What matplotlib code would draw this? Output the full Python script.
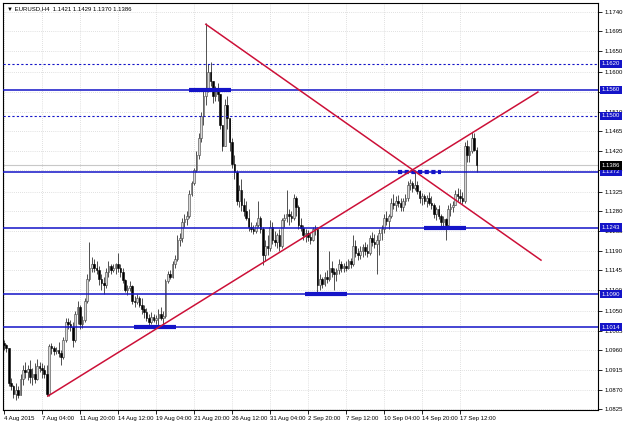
import numpy as np
import matplotlib
matplotlib.use("Agg")
import matplotlib.pyplot as plt
from matplotlib.transforms import blended_transform_factory

plt.rcParams['font.family'] = ['Liberation Sans', 'DejaVu Sans']

# EURUSD H4 bars (high, low, close); open = previous close
first_open = 1.0978
highs = [
    1.0984, 1.0975, 1.0966, 1.0897, 1.0880, 1.0885, 1.0878, 1.0905, 1.0926, 1.0933,
    1.0926, 1.0938, 1.0920, 1.0931, 1.0940, 1.0933, 1.0931, 1.0926, 1.0926, 1.0975,
    1.0978, 1.0970, 1.0968, 1.0980, 1.0962, 1.0990, 1.1035, 1.1035, 1.1030, 1.1025,
    1.1050, 1.1075, 1.1065, 1.1040, 1.1080, 1.1135, 1.1210, 1.1175, 1.1170, 1.1165,
    1.1155, 1.1135, 1.1130, 1.1150, 1.1165, 1.1160, 1.1160, 1.1162, 1.1185, 1.1160,
    1.1150, 1.1125, 1.1110, 1.1120, 1.1110, 1.1085, 1.1090, 1.1085, 1.1080, 1.1065,
    1.1058, 1.1045, 1.1048, 1.1045, 1.1042, 1.1055, 1.1060, 1.1050, 1.1125, 1.1142,
    1.1145, 1.1165, 1.1180, 1.1225, 1.1230, 1.1265, 1.1275, 1.1280, 1.1330, 1.1350,
    1.1380, 1.1420, 1.1460, 1.1510, 1.1560, 1.1713, 1.1620, 1.1625, 1.1580, 1.1570,
    1.1575, 1.1545, 1.1480, 1.1540, 1.1545, 1.1495, 1.1450, 1.1410, 1.1375, 1.1340,
    1.1355, 1.1310, 1.1305, 1.1285, 1.1255, 1.1250, 1.1255, 1.1305, 1.1270, 1.1245,
    1.1215, 1.1225, 1.1260, 1.1255, 1.1235, 1.1230, 1.1240, 1.1265, 1.1275, 1.1330,
    1.1285, 1.1280, 1.1320, 1.1315, 1.1295, 1.1265, 1.1248, 1.1240, 1.1238, 1.1230,
    1.1245, 1.1250, 1.1245, 1.1135, 1.1130, 1.1140, 1.1145, 1.1190, 1.1165, 1.1150,
    1.1150, 1.1170, 1.1165, 1.1162, 1.1165, 1.1170, 1.1172, 1.1225, 1.1215, 1.1195,
    1.1200, 1.1205, 1.1210, 1.1205, 1.1225, 1.1232, 1.1228, 1.1225, 1.1240, 1.1250,
    1.1275, 1.1280, 1.1275, 1.1310, 1.1320, 1.1315, 1.1318, 1.1312, 1.1310, 1.1320,
    1.1350, 1.1355, 1.1350, 1.1376, 1.1350, 1.1330, 1.1322, 1.1320, 1.1318, 1.1325,
    1.1315, 1.1300, 1.1290, 1.1295, 1.1275, 1.1270, 1.1265, 1.1295, 1.1300, 1.1305,
    1.1330, 1.1335, 1.1332, 1.1325, 1.1440, 1.1445, 1.1430, 1.1462, 1.1460, 1.1429,
]
lows = [
    1.0961, 1.0956, 1.0878, 1.0869, 1.0851, 1.0847, 1.0851, 1.0864, 1.0880, 1.0897,
    1.0892, 1.0885, 1.0880, 1.0885, 1.0893, 1.0910, 1.0897, 1.0897, 1.0855, 1.0855,
    1.0952, 1.0950, 1.0952, 1.0945, 1.0926, 1.0940, 1.0980, 1.1010, 1.1005, 1.0968,
    1.0980, 1.1020, 1.1010, 1.1012, 1.1025, 1.1070, 1.1120, 1.1140, 1.1140, 1.1135,
    1.1110, 1.1100, 1.1090, 1.1105, 1.1130, 1.1135, 1.1140, 1.1135, 1.1140, 1.1130,
    1.1115, 1.1095, 1.1088, 1.1098, 1.1068, 1.1060, 1.1068, 1.1060, 1.1045, 1.1035,
    1.1028, 1.1018, 1.1020, 1.1025, 1.1020, 1.1015, 1.1030, 1.1014, 1.1035, 1.1115,
    1.1125, 1.1128, 1.1150, 1.1165, 1.1200, 1.1210, 1.1245, 1.1250, 1.1265, 1.1315,
    1.1340, 1.1370, 1.1400, 1.1440, 1.1480, 1.1525, 1.1555, 1.1570, 1.1530, 1.1535,
    1.1535, 1.1470, 1.1420, 1.1430, 1.1470, 1.1420, 1.1380, 1.1355, 1.1295, 1.1290,
    1.1280, 1.1270, 1.1260, 1.1235, 1.1232, 1.1228, 1.1230, 1.1245, 1.1230, 1.1157,
    1.1165, 1.1180, 1.1190, 1.1205, 1.1200, 1.1195, 1.1190, 1.1195, 1.1245, 1.1255,
    1.1250, 1.1255, 1.1260, 1.1270, 1.1240, 1.1235, 1.1215, 1.1210, 1.1212, 1.1205,
    1.1212, 1.1225, 1.1088, 1.1100, 1.1105, 1.1108, 1.1115, 1.1120, 1.1130, 1.1099,
    1.1120, 1.1135, 1.1140, 1.1140, 1.1142, 1.1148, 1.1150, 1.1155, 1.1175, 1.1168,
    1.1170, 1.1175, 1.1180, 1.1175, 1.1180, 1.1200, 1.1195, 1.1135, 1.1180, 1.1215,
    1.1230, 1.1250, 1.1240, 1.1265, 1.1285, 1.1280, 1.1290, 1.1280, 1.1282, 1.1295,
    1.1305, 1.1330, 1.1325, 1.1330, 1.1320, 1.1300, 1.1295, 1.1298, 1.1290, 1.1295,
    1.1285, 1.1265, 1.1260, 1.1262, 1.1245, 1.1240, 1.1215, 1.1245, 1.1270, 1.1278,
    1.1295, 1.1305, 1.1300, 1.1298, 1.1300, 1.1395, 1.1395, 1.1415, 1.1420, 1.1370,
]
closes = [
    1.0973, 1.0965, 1.0885, 1.0878, 1.0860, 1.0870, 1.0857, 1.0895, 1.0915, 1.0910,
    1.0918, 1.0900, 1.0905, 1.0895, 1.0925, 1.0920, 1.0915, 1.0905, 1.0860, 1.0970,
    1.0965, 1.0958, 1.0962, 1.0955, 1.0945, 1.0985, 1.1025, 1.1020, 1.1015, 1.0985,
    1.1045, 1.1060, 1.1020, 1.1030, 1.1075, 1.1125, 1.1150, 1.1160, 1.1150, 1.1145,
    1.1125, 1.1115, 1.1110, 1.1140, 1.1155, 1.1145, 1.1150, 1.1158, 1.1150, 1.1140,
    1.1122, 1.1100, 1.1105, 1.1108, 1.1075, 1.1072, 1.1080, 1.1065, 1.1055, 1.1048,
    1.1035, 1.1025, 1.1038, 1.1030, 1.1035, 1.1045, 1.1035, 1.1040, 1.1120, 1.1135,
    1.1130, 1.1160, 1.1170, 1.1215, 1.1220, 1.1255, 1.1262, 1.1270, 1.1320, 1.1345,
    1.1375, 1.1410, 1.1450, 1.1500, 1.1545, 1.1560, 1.1600, 1.1580, 1.1545, 1.1560,
    1.1550, 1.1480, 1.1430, 1.1525, 1.1495, 1.1440, 1.1390, 1.1370, 1.1305, 1.1330,
    1.1295, 1.1280, 1.1265, 1.1245, 1.1240, 1.1235, 1.1248, 1.1265, 1.1240, 1.1180,
    1.1200, 1.1195, 1.1245, 1.1215, 1.1210, 1.1225, 1.1200, 1.1260, 1.1265, 1.1275,
    1.1270, 1.1265, 1.1310, 1.1290, 1.1250, 1.1242, 1.1225, 1.1230, 1.1222, 1.1215,
    1.1240, 1.1240, 1.1110, 1.1125, 1.1112, 1.1130, 1.1125, 1.1150, 1.1140, 1.1135,
    1.1145, 1.1160, 1.1150, 1.1155, 1.1150, 1.1165, 1.1158, 1.1200, 1.1185, 1.1180,
    1.1190, 1.1198, 1.1190, 1.1185, 1.1218, 1.1210, 1.1205, 1.1215, 1.1230, 1.1240,
    1.1265, 1.1258, 1.1270, 1.1300, 1.1295, 1.1305, 1.1300, 1.1290, 1.1305, 1.1310,
    1.1340, 1.1345, 1.1335, 1.1340, 1.1328, 1.1310, 1.1315, 1.1305, 1.1310, 1.1300,
    1.1295, 1.1275, 1.1285, 1.1270, 1.1255, 1.1262, 1.1250, 1.1285, 1.1290, 1.1295,
    1.1320, 1.1315, 1.1310, 1.1305, 1.1430, 1.1410, 1.1420, 1.1450, 1.1421, 1.1386,
]

date_labels = ['4 Aug 2015', '7 Aug 04:00', '11 Aug 20:00', '14 Aug 12:00', '19 Aug 04:00',
               '21 Aug 20:00', '26 Aug 12:00', '31 Aug 04:00', '2 Sep 20:00', '7 Sep 12:00',
               '10 Sep 04:00', '14 Sep 20:00', '17 Sep 12:00']
price_ticks = ['1.0825', '1.0870', '1.0915', '1.0960', '1.1005', '1.1050', '1.1100', '1.1145',
               '1.1190', '1.1235', '1.1280', '1.1325', '1.1375', '1.1420', '1.1465', '1.1510',
               '1.1555', '1.1600', '1.1650', '1.1695', '1.1740']

# horizontal levels
solid_levels = [1.1560, 1.1372, 1.1243, 1.1090, 1.1014]
dotted_levels = [1.1620, 1.1500]
bid_price = 1.1386
# short thick marks: (from bar, to bar, price, dotted?)
marks = [(77.9, 95.6, 1.1560, False), (54.7, 72.4, 1.1014, False),
         (126.7, 144.4, 1.1090, False), (165.9, 184.0, 1.1372, True),
         (176.8, 194.5, 1.1243, False)]
# trendlines anchors (bar, price)
trend_down = [(85.0, 1.1711), (226.1, 1.1168)]
trend_up = [(18.5, 1.0855), (224.8, 1.1555)]

BLUE = '#1414c8'
RED = '#cc1038'
FS = 4.3

highs = np.array(highs)
lows = np.array(lows)
closes = np.array(closes)
opens = np.concatenate([[first_open], closes[:-1]])
highs = np.maximum(highs, np.maximum(opens, closes))
lows = np.minimum(lows, np.minimum(opens, closes))
idx = np.arange(len(closes))

fig = plt.figure(figsize=(6.25, 4.24), dpi=100)
ax = fig.add_axes([3 / 625, 14 / 424, 595 / 625, 407 / 424])
ax.set_xlim(-0.4, 250.1)
ax.set_ylim(1.0823, 1.1760)

# candles
ax.vlines(idx, lows, highs, color='#202020', lw=0.55, zorder=3)
up = closes >= opens
body_lo = np.minimum(opens, closes)
body_h = np.maximum(np.abs(closes - opens), 0.00004)
ax.bar(idx[up], body_h[up], bottom=body_lo[up], width=0.7, facecolor='#d8d8d8',
       edgecolor='#404040', linewidth=0.4, zorder=4)
ax.bar(idx[~up], body_h[~up], bottom=body_lo[~up], width=0.7, facecolor='black',
       edgecolor='black', linewidth=0.4, zorder=4)

# levels
for p in solid_levels:
    ax.axhline(p, color=BLUE, lw=1.1, zorder=5)
for p in dotted_levels:
    ax.axhline(p, color=BLUE, lw=0.8, ls=(0, (2, 2)), zorder=5)
ax.axhline(bid_price, color='#c8c8c8', lw=0.8, zorder=2)
for x0, x1, p, dot in marks:
    ax.plot([x0, x1], [p, p], color=BLUE, lw=3, solid_capstyle='butt',
            ls=(0, (1, 0.6)) if dot else '-', zorder=6)

for line in (trend_down, trend_up):
    xs, ys = zip(*line)
    ax.plot(xs, ys, color=RED, lw=1.1, zorder=7)

# axes styling
ax.set_xticks(np.arange(len(date_labels)) * 16)
ax.set_xticklabels(date_labels, ha='left', fontsize=FS)
ax.yaxis.tick_right()
ax.set_yticks([float(t) for t in price_ticks])
ax.set_yticklabels(price_ticks, fontsize=FS)
ax.tick_params(axis='both', length=3, width=0.6, pad=1.5, colors='black')
ax.tick_params(axis='y', pad=1.5)
ax.grid(True, color='#c4c4c4', lw=0.5, ls=(0, (1, 2)))
ax.set_axisbelow(True)
for s in ax.spines.values():
    s.set_color('black')
    s.set_linewidth(0.8)

# price boxes on the right scale
tr = blended_transform_factory(ax.transAxes, ax.transData)
for p in solid_levels + dotted_levels:
    ax.text(1.006, p, f'{p:.4f}', transform=tr, fontsize=FS, color='white', va='center',
            ha='left', clip_on=False, zorder=20,
            bbox=dict(boxstyle='square,pad=0.3', fc=BLUE, ec='none'))
ax.text(1.006, bid_price, f'{bid_price:.4f}', transform=tr, fontsize=FS, color='white',
        va='center', ha='left', clip_on=False, zorder=20,
        bbox=dict(boxstyle='square,pad=0.3', fc='black', ec='none'))

ax.text(0.006, 0.992, '\u25bc EURUSD,H4  1.1421 1.1429 1.1370 1.1386', transform=ax.transAxes,
        fontsize=FS, va='top', ha='left', zorder=20)

fig.savefig('out.png', dpi=100, facecolor='white')
